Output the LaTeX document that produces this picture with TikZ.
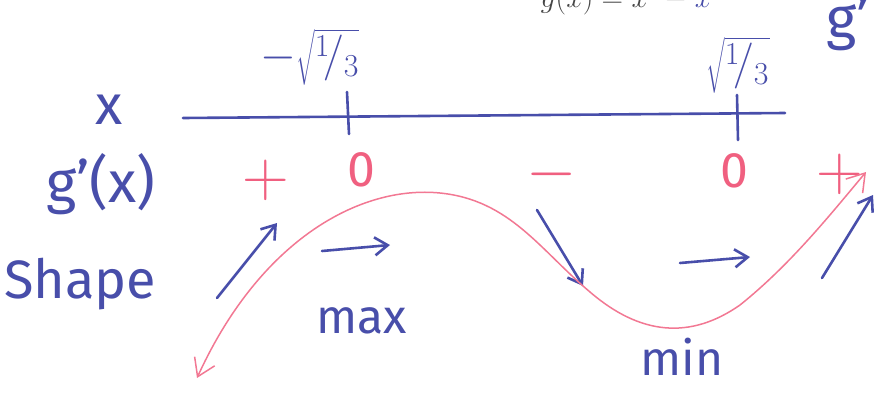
\documentclass[tikz,border=0pt]{standalone}
\usepackage{fontspec}
\setmainfont{Fira Sans}
\usetikzlibrary{arrows.meta}
\definecolor{penBlue}{RGB}{72,78,170}
\definecolor{penPink}{RGB}{240,96,128}
\definecolor{printGray}{RGB}{70,70,70}
\newcommand{\rootLabel}[1]{\scalebox{1.85}{\ensuremath{#1\sqrt{{}^{1}\!/_{3}}}}}
\newcommand{\signMath}[1]{\scalebox{2.6}{\ensuremath{#1}}}
\newcommand{\penSize}[1]{\fontsize{#1}{#1}\selectfont}
\tikzset{
  hand/.style={anchor=base, inner sep=0pt, text=penBlue, font=\penSize{48}},
  sign/.style={anchor=center, inner sep=0pt, text=penPink, font=\penSize{50}},
  penline/.style={penBlue, line width=2.6pt, line cap=round},
  penarrow/.style={penline, -{Straight Barb[length=13pt,width=18pt]}},
  graphcurve/.style={penPink!85, line width=1.5pt, line cap=round,
    {Straight Barb[length=17pt,width=22pt]}-{Straight Barb[length=17pt,width=22pt]}},
}

\begin{document}
\begin{tikzpicture}[x=1pt,y=-1pt]
\clip (0,0) rectangle (881,394);
% cut-off lines at the top
\node[anchor=base, inner sep=0pt, text=printGray, font=\penSize{24}] (fx) at (626,7) {\scalebox{1.2}{$g(x) = x^3 - {\color{penBlue}x}$}};
\node[hand, anchor=base west, font=\penSize{58}] (gcut) at (826,38) {g'};
% row labels
\node[hand, font=\penSize{56}] (xlab) at (109,124) {x};
\node[hand, anchor=base west, font=\penSize{58}] (glab) at (46,202) {g'(x)};
\node[hand, anchor=base west, font=\penSize{54}] (shapelab) at (4,298) {Shape};
% number line
\coordinate (lineL) at (183,118);
\coordinate (lineR) at (785,113);
\draw[penline] (lineL) -- (lineR);
\draw[penline] (347,92) -- (349,134);
\draw[penline] (737,95) -- (738,140);
\node[anchor=center, inner sep=0pt, text=penBlue, font=\penSize{24}] (rootA) at (310,57) {\rootLabel{-}};
\node[anchor=center, inner sep=0pt, text=penBlue, font=\penSize{24}] (rootB) at (738,65) {\rootLabel{}};
% signs of g'
\node[sign, font=\penSize{24}] (sA) at (266,180) {\signMath{+}};
\node[sign] (sB) at (361,170) {0};
\node[sign, font=\penSize{24}] (sC) at (552,174) {\signMath{-}};
\node[sign] (sD) at (734,171) {0};
\node[sign, font=\penSize{24}] (sE) at (840,174) {\signMath{+}};
% shape arrows
\draw[penarrow] (217,298) -- (277,223);
\draw[penarrow] (322,251) -- (390,245);
\draw[penarrow] (537,210) -- (583,286);
\draw[penarrow] (680,263) -- (750,257);
\draw[penarrow] (822,278) -- (873,195);
% sketch of g
\draw[graphcurve] (197,378) .. controls (260,240) and (360,185) .. (440,193)
  .. controls (510,200) and (540,250) .. (590,292)
  .. controls (640,335) and (690,340) .. (740,305)
  .. controls (790,265) and (830,215) .. (866,172);
\node[hand] (maxlab) at (362,333) {max};
\node[hand] (minlab) at (682,375) {min};
\end{tikzpicture}
\end{document}
